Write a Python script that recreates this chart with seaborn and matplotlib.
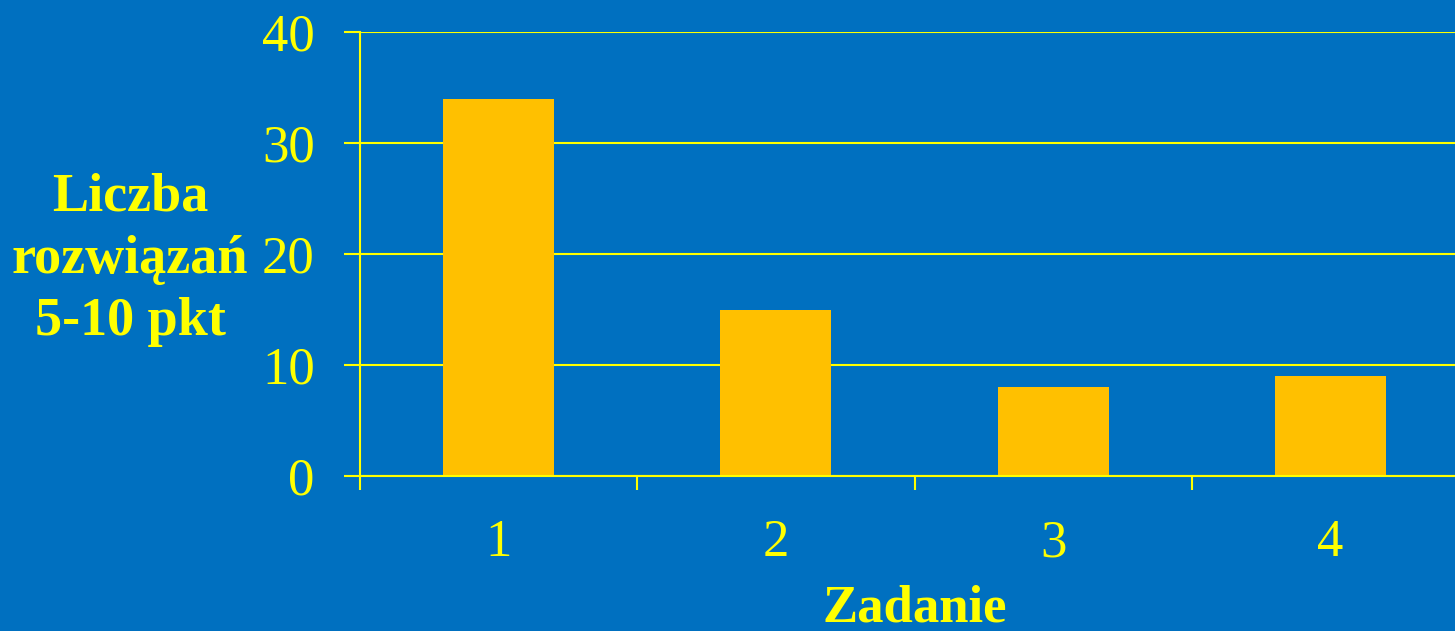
import matplotlib
matplotlib.use("Agg")
import matplotlib.pyplot as plt
import seaborn as sns
import pandas as pd
from matplotlib.ticker import FixedLocator

categories = ["1", "2", "3", "4"]
values = [34, 15, 8, 9]
y_ticks = [0, 10, 20, 30, 40]

BG = "#0070C0"
BAR = "#FFC000"
TXT = "#FFFF00"

sns.set_theme(style="white")
plt.rcParams['font.family'] = ['Liberation Serif', 'DejaVu Serif']

W, H = 1455, 631
fig = plt.figure(figsize=(W / 100, H / 100), dpi=100)
fig.patch.set_facecolor(BG)
ax = fig.add_axes([360 / W, 155 / H, 1109 / W, 444 / H])
ax.set_facecolor(BG)

df = pd.DataFrame({"Zadanie": categories, "val": values})
sns.barplot(data=df, x="Zadanie", y="val", color=BAR, width=0.4,
            saturation=1, ax=ax, edgecolor="none")

ax.set_xlim(-0.5, 3.5)
ax.set_ylim(0, 40)
ax.set_yticks(y_ticks)
ax.yaxis.grid(True, color=TXT, linewidth=1.5)
ax.set_axisbelow(True)

for s in ["top", "right"]:
    ax.spines[s].set_visible(False)
for s in ["left", "bottom"]:
    ax.spines[s].set_color(TXT)
    ax.spines[s].set_linewidth(1.5)

ax.tick_params(axis="y", left=True, colors=TXT, labelcolor=TXT, length=11.5, width=1.5,
               direction="out", pad=21, labelsize=38)
ax.tick_params(axis="x", which="major", bottom=True, length=0, pad=31,
               labelcolor=TXT, labelsize=38)
ax.xaxis.set_minor_locator(FixedLocator([-0.5, 0.5, 1.5, 2.5]))
ax.tick_params(axis="x", which="minor", bottom=True, length=10, width=1.5,
               color=TXT, direction="out")

ax.set_xlabel("Zadanie", color=TXT, fontsize=38, fontweight="bold", va="center")
ax.xaxis.set_label_coords(0.5005, -0.298)
ax.set_ylabel("Liczba\nrozwiązań\n5-10 pkt", color=TXT, fontsize=39, fontweight="bold",
              rotation=0, ha="center", va="center", linespacing=1.32)
ax.yaxis.set_label_coords(-0.2074, 0.487)

fig.savefig("out.png", dpi=100, facecolor=BG)
